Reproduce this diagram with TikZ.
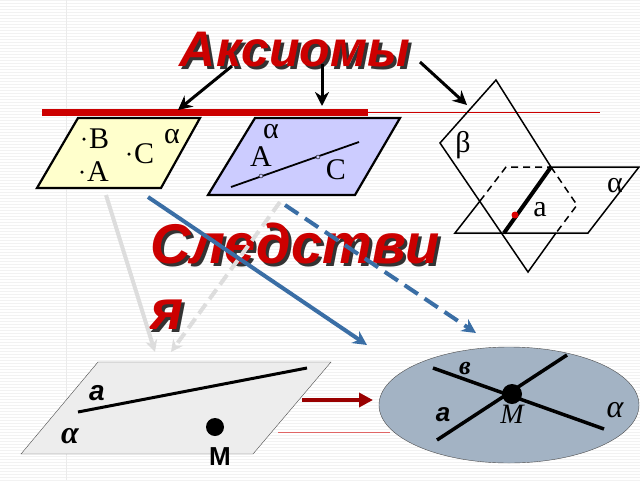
\documentclass[tikz,border=0pt]{standalone}
\usepackage{fontspec}
\setmainfont{Liberation Serif}
\newfontfamily\headfont{Liberation Sans}
\usetikzlibrary{arrows.meta,positioning}
\definecolor{hdred}{HTML}{CC0000}
\definecolor{arrblue}{HTML}{3A6EA5}
\definecolor{lgray}{HTML}{DDDDDD}
\definecolor{darkred}{HTML}{990000}
\tikzset{
  plane/.style={draw, line width=2.2pt, line join=miter},
  head/.style={font=\headfont\bfseries\itshape\fontsize{56}{66}\selectfont, text=hdred, inner sep=0pt},
  headshadow/.style={font=\headfont\bfseries\itshape\fontsize{56}{66}\selectfont, text=black!80, inner sep=0pt},
  blackarrow/.style={line width=3pt, -{Stealth[length=14pt,width=14pt]}},
  bluearrow/.style={arrblue, line width=4pt, -{Stealth[length=14pt,width=14pt]}},
  grayarrow/.style={lgray, line width=4pt, -{Stealth[length=12pt,width=12pt]}},
  lbl/.style={font=\fontsize{30}{32}\selectfont, inner sep=0pt},
  dot/.style={circle, fill, inner sep=0pt, minimum size=3.5pt},
}
\begin{document}
\begin{tikzpicture}[x=1pt,y=-1pt]
\useasboundingbox (0,0) rectangle (640,480);
% background stripes
\foreach \yy in {0,3,...,480} \draw[black!5, line width=0.5pt] (0,\yy) -- (640,\yy);
\draw[black!8] (66,0) -- (66,480);
% headings
\node (axshadow) [headshadow, font=\headfont\bfseries\itshape\fontsize{50}{56}\selectfont] at (298,53) {Аксиомы};
\node (axioms) [head, font=\headfont\bfseries\itshape\fontsize{50}{56}\selectfont] at (295,50) {Аксиомы};
\node (sshadow) [headshadow, anchor=north west, align=left] at (153,226) {Следстви\\я};
\node (sledst) [head, anchor=north west, align=left] at (150,223) {Следстви\\я};
% red bar
\draw[hdred, line width=7pt] (42,112) -- (368,112);
\draw[hdred, line width=0.5pt] (368,112) -- (600,112);
% axiom arrows
\coordinate (ax1) at (232,66);
\coordinate (ax2) at (322,64);
\coordinate (ax3) at (420,62);
\coordinate (p1) at (178,110);
\coordinate (p2) at (322,106);
\coordinate (p3) at (467,105);
\draw[blackarrow] (ax1) -- (p1);
\draw[blackarrow] (ax2) -- (p2);
\draw[blackarrow] (ax3) -- (p3);
% plane 1: three points
\draw[plane, fill={rgb,255:red,255;green,255;blue,204}] (78,118) -- (200,118) -- (161,188) -- (37,188) -- cycle;
\node (dB) [dot] at (84,139) {};
\node (B) [lbl, right=3pt of dB] {B};
\node (dC) [dot] at (129,154) {};
\node (C) [lbl, right=3pt of dC] {C};
\node (dA) [dot] at (82,172) {};
\node (A) [lbl, right=3pt of dA] {A};
\node (al1) [lbl] at (172,137) {α};
% plane 2: line in plane
\draw[plane, fill={rgb,255:red,204;green,204;blue,255}] (255,118) -- (400,118) -- (355,195) -- (208,195) -- cycle;
\coordinate (l1) at (231,187);
\coordinate (l2) at (359,142);
\draw[line width=1.8pt] (l1) -- (l2);
\node (pA) [draw, circle, inner sep=0pt, minimum size=4pt, fill={rgb,255:red,204;green,204;blue,255}] at (261,176) {};
\node (pC) [draw, circle, inner sep=0pt, minimum size=4pt, fill={rgb,255:red,204;green,204;blue,255}] at (318,157) {};
\node (al2) [lbl] at (271,132) {α};
\node (A2) [lbl] at (261,157) {A};
\node (C2) [lbl] at (336,170) {C};
% plane 3: two planes
\draw[line width=1.5pt] (551,167) -- (496,80) -- (440,143) -- (528,272) -- (556,233);
\draw[line width=1.5pt] (551,167) -- (639,167) -- (588,233) -- (455,233) -- (480,201);
\draw[line width=1.5pt, dash pattern=on 7pt off 5pt] (480,201) -- (506,167) -- (551,167);
\draw[line width=1.5pt, dash pattern=on 7pt off 5pt] (551,167) -- (577,205) -- (556,233);
\draw[line width=4pt] (551,167) -- (504,233);
\node (pa) [circle, fill=red!85!black, inner sep=0pt, minimum size=7pt] at (515,215) {};
\node (la) [lbl] at (540,210) {a};
\node (al3) [lbl] at (615,186) {α};
\node (be) [lbl] at (463,145) {β};
% consequence arrows
\coordinate (g1) at (106,195);
\coordinate (g2) at (280,202);
\coordinate (b1) at (148,197);
\coordinate (b2) at (285,205);
\coordinate (q1) at (155,352);
\coordinate (q2) at (171,352);
\coordinate (r1) at (367,345);
\coordinate (r2) at (476,333);
\draw[grayarrow] (g1) -- (q1);
\draw[grayarrow, dash pattern=on 12pt off 6pt] (g2) -- (q2);
\draw[bluearrow] (b1) -- (r1);
\draw[bluearrow, dash pattern=on 16pt off 8pt] (b2) -- (r2);
% consequence 1: line and point
\draw[black!70, fill=black!7] (98,362) -- (331,362) -- (253,454) -- (21,454) -- cycle;
\draw[line width=3pt] (78,412) -- (307,368);
\node (ca) [lbl, font=\headfont\bfseries\itshape\fontsize{28}{30}\selectfont] at (97,393) {a};
\node (calpha) [lbl, font=\bfseries\itshape\fontsize{32}{34}\selectfont] at (70,436) {α};
\node (M1) [circle, fill, inner sep=0pt, minimum size=18pt] at (215,427) {};
\node (lM1) [lbl, font=\headfont\bfseries\fontsize{26}{28}\selectfont] at (220,457) {M};
\draw[hdred!60, line width=0.5pt] (278,432) -- (390,432);
% consequence 2: two lines
\draw[black!70, fill={rgb,255:red,163;green,179;blue,196}] (509,405) ellipse [x radius=130, y radius=58];
\draw[darkred, line width=4pt, -{Triangle[length=14pt,width=14pt]}] (302,400) -- (373,400);
\draw[line width=3.5pt] (433,368) -- (604,429);
\draw[line width=3.5pt] (437,440) -- (567,355);
\node (M2) [circle, fill, inner sep=0pt, minimum size=20pt] at (512,394) {};
\node (lv) [lbl, font=\bfseries\itshape\fontsize{26}{28}\selectfont] at (465,368) {в};
\node (la2) [lbl, font=\headfont\bfseries\itshape\fontsize{26}{28}\selectfont] at (443,415) {a};
\node (lM2) [lbl, font=\itshape\fontsize{28}{30}\selectfont] at (512,414) {M};
\node (lal) [lbl, font=\itshape\fontsize{32}{34}\selectfont] at (615,410) {α};
\end{tikzpicture}
\end{document}
